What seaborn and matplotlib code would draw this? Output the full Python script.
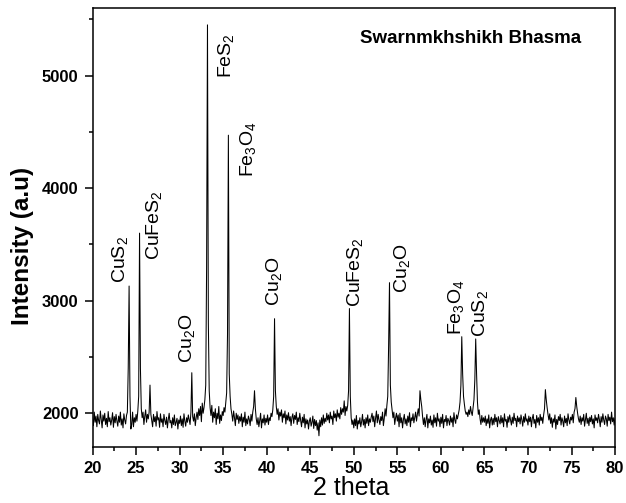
import numpy as np
import pandas as pd
import seaborn as sns
import matplotlib.pyplot as plt
from matplotlib.ticker import MultipleLocator

# XRD pattern, intensity at 0.1 degree steps
counts_20s = [1950, 1890, 2010, 1920, 1975, 1880, 1990, 1935, 1905, 2020,
              1940, 1870, 1985, 1930, 2000, 1900, 1955, 1880, 2015, 1925,
              1960, 1895, 1940, 2005, 1875, 1970, 1915, 1990, 1930, 1885,
              1975, 1920, 2010, 1895, 1950, 1870, 1995, 1940, 1905, 1980,
              2010, 2400, 3130, 2150, 1860, 1900, 2010, 1880, 1960, 1920,
              1990, 1930, 2020, 2150, 3600, 2400, 2040, 1960, 2010, 1900,
              1975, 2030, 1920, 1990, 1950, 2010, 2250, 1990, 1935, 1880,
              1990, 1925, 1970, 1885, 2015, 1940, 1960, 1875, 1995, 1920,
              1950, 1880, 1990, 1935, 1900, 1965, 1870, 1945, 2000, 1915,
              1935, 1870, 1960, 1900, 1985, 1890, 1920, 1955, 1860, 1940]
counts_30s = [1910, 1975, 1890, 1950, 1875, 1995, 1930, 1885, 1960, 1920,
              1985, 1940, 1900, 2010, 2360, 1970, 1930, 1995, 1890, 1960,
              2010, 1945, 2040, 1980, 2060, 1925, 2090, 2000, 2050, 2120,
              2250, 3300, 5450, 2800, 2200, 2050, 1980, 2070, 1920, 2010,
              1960, 2040, 1900, 2000, 1950, 2060, 1910, 1985, 1935, 2015,
              1980, 2050, 2010, 2090, 2180, 2700, 4470, 2350, 2150, 2040,
              1990, 1930, 2020, 1960, 1890, 2000, 1945, 1985, 1910, 1970,
              1930, 1995, 1880, 1965, 1920, 2010, 1890, 1950, 1905, 1975,
              1945, 1890, 1990, 1930, 2010, 2060, 2200, 2040, 1950, 1900,
              1960, 1880, 1935, 2000, 1870, 1950, 1915, 1985, 1895, 1955]
counts_40s = [1920, 1985, 1900, 1960, 1935, 2000, 1970, 2030, 2150, 2840,
              2200, 2060, 1990, 2040, 1940, 2010, 1975, 2030, 1920, 1995,
              1960, 2020, 1905, 1985, 1940, 2005, 1930, 1970, 1890, 1965,
              1995, 1910, 1980, 1945, 2010, 1900, 1960, 1925, 2000, 1935,
              1880, 1965, 1915, 1990, 1870, 1950, 1905, 1940, 1860, 1930,
              1960, 1885, 1920, 1975, 1865, 1945, 1890, 1935, 1850, 1915,
              1800, 1940, 1880, 1960, 1895, 1985, 1910, 1955, 1925, 2000,
              1940, 1985, 1915, 2010, 1950, 1975, 1900, 2020, 1960, 1995,
              1930, 2030, 1965, 2000, 1950, 2050, 1990, 2040, 2010, 2110,
              1980, 2060, 2020, 2070, 2200, 2930, 2150, 1960, 1900, 1940]
counts_50s = [1870, 1950, 1890, 1980, 1860, 1935, 1905, 1960, 1880, 1925,
              1990, 1895, 1945, 1870, 1960, 1910, 1985, 1890, 1950, 1920,
              1965, 2000, 1925, 1975, 1880, 1955, 2020, 1915, 1990, 1940,
              1900, 1970, 1935, 2010, 1890, 1955, 2040, 1975, 2070, 2150,
              2600, 3160, 2250, 2100, 2030, 1960, 2010, 1900, 1960, 2000,
              1930, 1985, 1880, 2000, 1915, 1960, 1870, 1945, 1990, 1905,
              1950, 1890, 1975, 1920, 2005, 1880, 1960, 1935, 1995, 1915,
              1960, 2010, 1930, 1990, 2040, 1975, 2200, 2120, 2060, 1970,
              1900, 1960, 1880, 1945, 1990, 1870, 1950, 1915, 1975, 1895,
              1940, 1875, 1985, 1915, 1960, 1885, 2000, 1930, 1950, 1880]
counts_60s = [1965, 1910, 1990, 1870, 1945, 1925, 1980, 1890, 1955, 1935,
              1895, 1975, 1920, 1960, 1880, 2005, 1940, 1910, 1985, 1950,
              1990, 2030, 2100, 2250, 2680, 2350, 2150, 2080, 2020, 1990,
              2010, 1970, 2030, 1990, 2060, 2010, 1980, 2050, 2120, 2300,
              2660, 2350, 2100, 1990, 2030, 1950, 1900, 1980, 1920, 1960,
              1920, 1975, 1890, 1950, 1910, 1985, 1870, 1940, 1965, 1895,
              1955, 1900, 1990, 1925, 1960, 1880, 1970, 1935, 1905, 1980,
              1915, 1960, 1880, 1995, 1930, 1945, 1875, 1970, 1920, 1985,
              1940, 1895, 1965, 1910, 2000, 1935, 1955, 1880, 1975, 1925,
              1960, 1905, 1985, 1940, 1885, 1970, 1920, 1995, 1930, 1950]
counts_70s = [1895, 1975, 1925, 1965, 1880, 1955, 1990, 1910, 1945, 1870,
              1980, 1920, 1960, 1895, 1990, 1935, 1965, 1910, 1985, 2040,
              2210, 2120, 2050, 1990, 1940, 1995, 1910, 1960, 1875, 1950,
              1920, 1985, 1860, 1945, 1900, 1970, 1935, 1990, 1895, 1960,
              1930, 1880, 1975, 1915, 1955, 1890, 1995, 1940, 1905, 1965,
              1940, 1990, 1915, 2010, 2040, 2140, 2060, 2000, 1950, 1920,
              1975, 1900, 1960, 1930, 1990, 1885, 1945, 2000, 1910, 1955,
              1890, 1965, 1925, 1980, 1905, 1950, 1870, 1985, 1935, 1960,
              1915, 1990, 1945, 1880, 1970, 1920, 1995, 1940, 1900, 1975,
              1950, 1885, 1990, 1935, 1965, 1905, 2010, 1925, 1960, 1895,
              1955]

intensity = counts_20s + counts_30s + counts_40s + counts_50s + counts_60s + counts_70s
two_theta = np.round(np.linspace(20, 80, len(intensity)), 1)

# phase labels and where their text starts (data coords)
phases = ['CuS$_2$', 'CuFeS$_2$', 'Cu$_2$O', 'FeS$_2$', 'Fe$_3$O$_4$',
          'Cu$_2$O', 'CuFeS$_2$', 'Cu$_2$O', 'Fe$_3$O$_4$', 'CuS$_2$']
label_x = [23.15, 27.1, 30.85, 35.3, 37.85, 40.82, 50.1, 55.5, 61.7, 64.45]
label_y = [3160, 3360, 2450, 4980, 4100, 2955, 2945, 3070, 2695, 2680]

sample_name = 'Swarnmkhshikh Bhasma'

sns.set_theme(style='ticks')
plt.rcParams['font.family'] = ['Liberation Sans', 'DejaVu Sans']
plt.rcParams['mathtext.default'] = 'regular'
plt.rcParams['axes.linewidth'] = 1.1
plt.rcParams['text.color'] = 'black'
plt.rcParams['axes.labelcolor'] = 'black'
plt.rcParams['xtick.color'] = 'black'
plt.rcParams['ytick.color'] = 'black'

df = pd.DataFrame({'two_theta': two_theta, 'intensity': intensity})

fig = plt.figure(figsize=(6.26, 5.03), dpi=100)
ax = fig.add_axes([0.1478, 0.1113, 0.8347, 0.8728])
sns.lineplot(data=df, x='two_theta', y='intensity', estimator=None,
             color='black', lw=0.75, ax=ax)

ax.set_xlim(20, 80)
ax.set_ylim(1700, 5600)
ax.xaxis.set_major_locator(MultipleLocator(5))
ax.xaxis.set_minor_locator(MultipleLocator(2.5))
ax.yaxis.set_major_locator(MultipleLocator(1000))
ax.yaxis.set_minor_locator(MultipleLocator(500))
ax.tick_params(which='major', direction='out', length=6, width=1.1,
               labelsize=12, pad=4, colors='black')
ax.tick_params(which='minor', direction='out', length=3, width=1.1,
               colors='black')
for lab in ax.get_xticklabels() + ax.get_yticklabels():
    lab.set_fontweight('bold')
for sp in ax.spines.values():
    sp.set_visible(True)
    sp.set_color('black')
ax.set_xlabel('')
ax.set_ylabel('')

for name, lx, ly in zip(phases, label_x, label_y):
    ax.text(lx, ly, name, rotation=90, ha='center', va='bottom',
            fontsize=14, color='black')

fig.text(471 / 626, 1 - 43 / 503, sample_name, ha='center', va='baseline',
         fontsize=13.5, fontweight='bold', color='black')
fig.text(22.5 / 626, 1 - 246 / 503, 'Intensity (a.u)', rotation=90,
         ha='center', va='center', fontsize=17.5, fontweight='bold',
         color='black')
fig.text(351 / 626, 1 - 488 / 503, '2 theta', ha='center', va='center',
         fontsize=18, color='black')

fig.savefig('out.png', dpi=100)
